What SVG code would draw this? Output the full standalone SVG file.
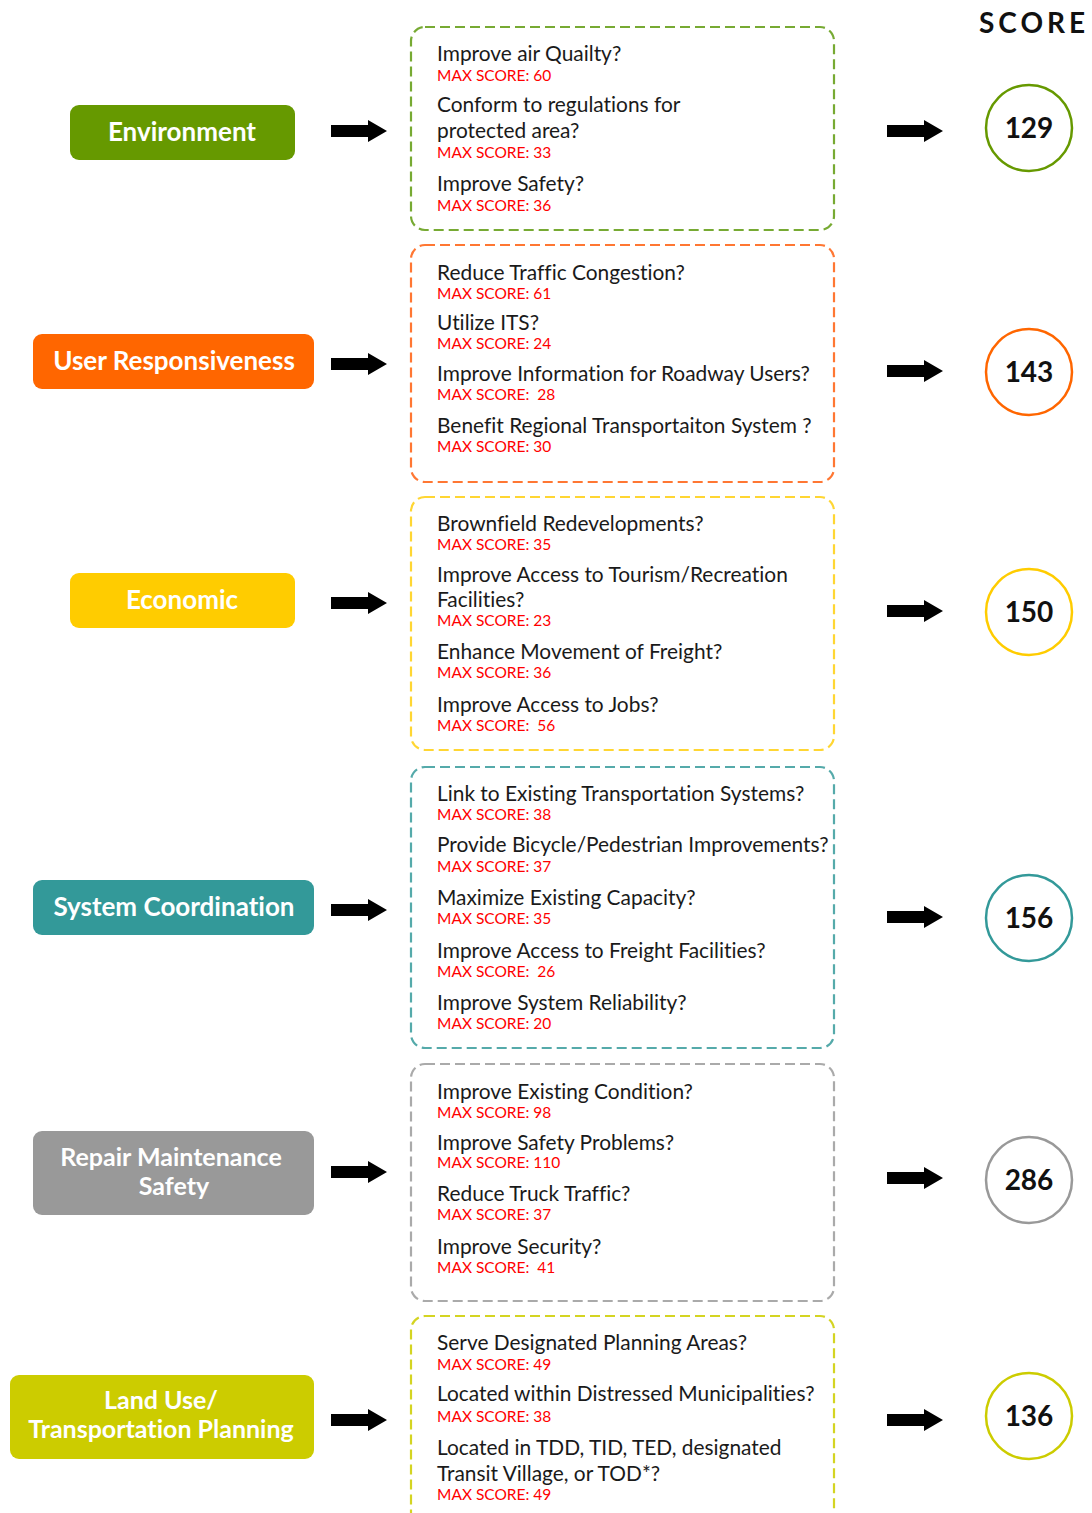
<svg xmlns="http://www.w3.org/2000/svg" width="1092" height="1513" viewBox="0 0 1092 1513">
  <style>
    text { font-family: Lato, "Open Sans", "Liberation Sans", sans-serif; font-variant-ligatures: none; }
    .cat { font-weight: bold; font-size: 26px; fill: #ffffff; text-anchor: middle; }
    .cat2 { font-size: 25px; }
    .q { font-size: 20.9px; fill: #1a1a1a; }
    .ms { font-size: 15.5px; fill: #ff0000; }
    .num { font-weight: bold; font-size: 28px; fill: #111111; text-anchor: middle; }
    .title { font-weight: bold; font-size: 28px; fill: #111111; letter-spacing: 4px; }
    .panel { fill: none; stroke-width: 2.2; stroke-dasharray: 10 5; }
    .ring { fill: #ffffff; stroke-width: 2.5; }
  </style>
  <defs>
    <path id="arrow" d="M0,-6 H37 V-11 L56,0 L37,11 V6 H0 Z" fill="#000000"/>
  </defs>

  <rect width="1092" height="1513" fill="#ffffff"/>

  <text class="title" x="979" y="33">SCORE</text>

  <!-- category boxes -->
  <g id="environment">
    <rect x="70" y="105" width="225" height="55" rx="9" fill="#669900"/>
    <text class="cat" x="182" y="141">Environment</text>
  </g>
  <g id="user-responsiveness">
    <rect x="33" y="334" width="281" height="55" rx="9" fill="#ff6600"/>
    <text class="cat" x="174" y="370">User Responsiveness</text>
  </g>
  <g id="economic">
    <rect x="70" y="573" width="225" height="55" rx="9" fill="#ffcc00"/>
    <text class="cat" x="182" y="609">Economic</text>
  </g>
  <g id="system-coordination">
    <rect x="33" y="880" width="281" height="55" rx="9" fill="#339999"/>
    <text class="cat" x="174" y="916">System Coordination</text>
  </g>
  <g id="repair-maintenance-safety">
    <rect x="33" y="1131" width="281" height="84" rx="9" fill="#999999"/>
    <text class="cat cat2" x="171" y="1166">Repair Maintenance</text>
    <text class="cat cat2" x="174" y="1195">Safety</text>
  </g>
  <g id="land-use">
    <rect x="10" y="1375" width="304" height="84" rx="9" fill="#cccc00"/>
    <text class="cat cat2" x="161" y="1409">Land Use/</text>
    <text class="cat cat2" x="161" y="1438">Transportation Planning</text>
  </g>

  <!-- criteria panels -->
  <g id="environment-criteria">
    <rect class="panel" x="411" y="27" width="423" height="203" rx="14" stroke="#77aa33"/>
    <text class="q" x="437" y="61">Improve air Quailty?</text>
    <text class="ms" x="437" y="81">MAX SCORE: 60</text>
    <text class="q" x="437" y="112">Conform to regulations for</text>
    <text class="q" x="437" y="138">protected area?</text>
    <text class="ms" x="437" y="158">MAX SCORE: 33</text>
    <text class="q" x="437" y="191">Improve Safety?</text>
    <text class="ms" x="437" y="211">MAX SCORE: 36</text>
  </g>
  <g id="user-responsiveness-criteria">
    <rect class="panel" x="411" y="245" width="423" height="237" rx="14" stroke="#ff7733"/>
    <text class="q" x="437" y="280">Reduce Traffic Congestion?</text>
    <text class="ms" x="437" y="299">MAX SCORE: 61</text>
    <text class="q" x="437" y="330">Utilize ITS?</text>
    <text class="ms" x="437" y="349">MAX SCORE: 24</text>
    <text class="q" x="437" y="381">Improve Information for Roadway Users?</text>
    <text class="ms" x="437" y="400" xml:space="preserve">MAX SCORE:  28</text>
    <text class="q" x="437" y="433">Benefit Regional Transportaiton System ?</text>
    <text class="ms" x="437" y="452">MAX SCORE: 30</text>
  </g>
  <g id="economic-criteria">
    <rect class="panel" x="411" y="497" width="423" height="253" rx="14" stroke="#ffd633"/>
    <text class="q" x="437" y="531">Brownfield Redevelopments?</text>
    <text class="ms" x="437" y="550">MAX SCORE: 35</text>
    <text class="q" x="437" y="582">Improve Access to Tourism/Recreation</text>
    <text class="q" x="437" y="607">Facilities?</text>
    <text class="ms" x="437" y="626">MAX SCORE: 23</text>
    <text class="q" x="437" y="659">Enhance Movement of Freight?</text>
    <text class="ms" x="437" y="678">MAX SCORE: 36</text>
    <text class="q" x="437" y="712">Improve Access to Jobs?</text>
    <text class="ms" x="437" y="731" xml:space="preserve">MAX SCORE:  56</text>
  </g>
  <g id="system-coordination-criteria">
    <rect class="panel" x="411" y="767" width="423" height="281" rx="14" stroke="#55aaaa"/>
    <text class="q" x="437" y="801">Link to Existing Transportation Systems?</text>
    <text class="ms" x="437" y="820">MAX SCORE: 38</text>
    <text class="q" x="437" y="852">Provide Bicycle/Pedestrian Improvements?</text>
    <text class="ms" x="437" y="872">MAX SCORE: 37</text>
    <text class="q" x="437" y="905">Maximize Existing Capacity?</text>
    <text class="ms" x="437" y="924">MAX SCORE: 35</text>
    <text class="q" x="437" y="958">Improve Access to Freight Facilities?</text>
    <text class="ms" x="437" y="977" xml:space="preserve">MAX SCORE:  26</text>
    <text class="q" x="437" y="1010">Improve System Reliability?</text>
    <text class="ms" x="437" y="1029">MAX SCORE: 20</text>
  </g>
  <g id="repair-maintenance-safety-criteria">
    <rect class="panel" x="411" y="1064" width="423" height="237" rx="14" stroke="#aaaaaa"/>
    <text class="q" x="437" y="1099">Improve Existing Condition?</text>
    <text class="ms" x="437" y="1118">MAX SCORE: 98</text>
    <text class="q" x="437" y="1150">Improve Safety Problems?</text>
    <text class="ms" x="437" y="1168">MAX SCORE: 110</text>
    <text class="q" x="437" y="1201">Reduce Truck Traffic?</text>
    <text class="ms" x="437" y="1220">MAX SCORE: 37</text>
    <text class="q" x="437" y="1254">Improve Security?</text>
    <text class="ms" x="437" y="1273" xml:space="preserve">MAX SCORE:  41</text>
  </g>
  <g id="land-use-criteria">
    <rect class="panel" x="411" y="1316" width="423" height="220" rx="14" stroke="#d4d422"/>
    <text class="q" x="437" y="1350">Serve Designated Planning Areas?</text>
    <text class="ms" x="437" y="1370">MAX SCORE: 49</text>
    <text class="q" x="437" y="1401">Located within Distressed Municipalities?</text>
    <text class="ms" x="437" y="1422">MAX SCORE: 38</text>
    <text class="q" x="437" y="1455">Located in TDD, TID, TED, designated</text>
    <text class="q" x="437" y="1481">Transit Village, or TOD*?</text>
    <text class="ms" x="437" y="1500">MAX SCORE: 49</text>
  </g>

  <!-- score totals -->
  <g id="score-environment">
    <circle class="ring" cx="1029" cy="128" r="43" stroke="#669900"/>
    <text class="num" x="1029" y="138">129</text>
  </g>
  <g id="score-user-responsiveness">
    <circle class="ring" cx="1029" cy="372" r="43" stroke="#ff6600"/>
    <text class="num" x="1029" y="382">143</text>
  </g>
  <g id="score-economic">
    <circle class="ring" cx="1029" cy="612" r="43" stroke="#ffcc00"/>
    <text class="num" x="1029" y="622">150</text>
  </g>
  <g id="score-system-coordination">
    <circle class="ring" cx="1029" cy="918" r="43" stroke="#339999"/>
    <text class="num" x="1029" y="928">156</text>
  </g>
  <g id="score-repair-maintenance-safety">
    <circle class="ring" cx="1029" cy="1180" r="43" stroke="#999999"/>
    <text class="num" x="1029" y="1190">286</text>
  </g>
  <g id="score-land-use">
    <circle class="ring" cx="1029" cy="1416" r="43" stroke="#cccc00"/>
    <text class="num" x="1029" y="1426">136</text>
  </g>

  <!-- connectors -->
  <g id="connectors">
    <use href="#arrow" x="331" y="131"/>
    <use href="#arrow" x="331" y="364"/>
    <use href="#arrow" x="331" y="603"/>
    <use href="#arrow" x="331" y="910"/>
    <use href="#arrow" x="331" y="1172"/>
    <use href="#arrow" x="331" y="1420"/>
    <use href="#arrow" x="887" y="131"/>
    <use href="#arrow" x="887" y="371"/>
    <use href="#arrow" x="887" y="611"/>
    <use href="#arrow" x="887" y="917"/>
    <use href="#arrow" x="887" y="1178"/>
    <use href="#arrow" x="887" y="1420"/>
  </g>
</svg>
